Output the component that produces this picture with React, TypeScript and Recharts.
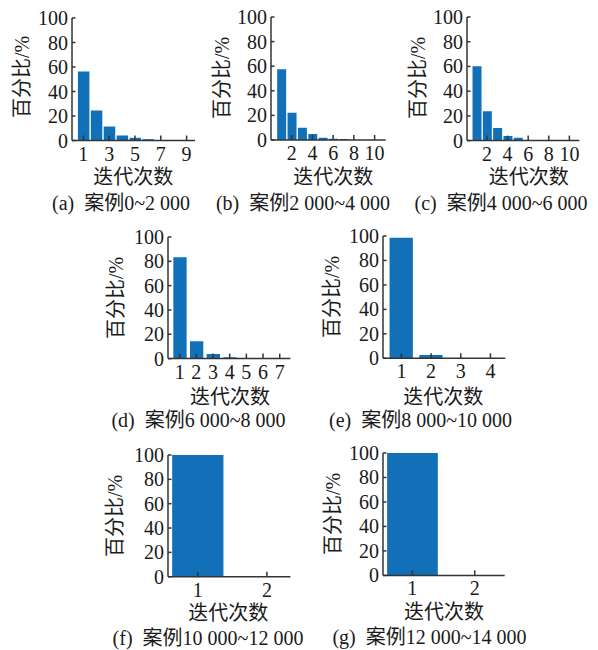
import React from 'react';
import { BarChart, Bar, XAxis, YAxis } from 'recharts';

// iteration counts (x) and share of cases in percent (y), one pair per panel
const iterA = [1, 2, 3, 4, 5, 6, 7, 8, 9];
const pctA = [56.3, 24.5, 11.4, 4.1, 2.2, 1.1, 0.3, 0, 0];
const ticksA = [1, 3, 5, 7, 9];

const iterB = [1, 2, 3, 4, 5, 6, 7, 8, 9, 10];
const pctB = [57.6, 22.2, 10.0, 4.9, 1.9, 1.1, 0.8, 0, 0, 0];
const ticksB = [2, 4, 6, 8, 10];

const iterC = [1, 2, 3, 4, 5, 6, 7, 8, 9, 10];
const pctC = [60.1, 23.7, 10.2, 3.8, 2.2, 0, 0, 0, 0, 0];
const ticksC = [2, 4, 6, 8, 10];

const iterD = [1, 2, 3, 4, 5, 6, 7];
const pctD = [83.3, 14.2, 3.8, 1.1, 0, 0, 0];
const ticksD = [1, 2, 3, 4, 5, 6, 7];

const iterE = [1, 2, 3, 4];
const pctE = [98.6, 2.7, 0, 0];
const ticksE = [1, 2, 3, 4];

const iterF = [1, 2];
const pctF = [100, 0];
const ticksF = [1, 2];

const iterG = [1, 2];
const pctG = [100, 0];
const ticksG = [1, 2];

const yTicks = [0, 20, 40, 60, 80, 100];
const yLabel = '百分比/%';
const xLabel = '迭代次数';
const captions = [
  '(a)\u00a0\u00a0案例0~2 000',
  '(b)\u00a0\u00a0案例2 000~4 000',
  '(c)\u00a0\u00a0案例4 000~6 000',
  '(d)\u00a0\u00a0案例6 000~8 000',
  '(e)\u00a0\u00a0案例8 000~10 000',
  '(f)\u00a0\u00a0案例10 000~12 000',
  '(g)\u00a0\u00a0案例12 000~14 000',
];

const FONT = "'Liberation Serif', 'Noto Sans CJK SC', serif";
const INK = '#1a1a1a';
const AXIS = '#333';
const BAR = '#1170b8';

const YW = 45; // y axis width
const MT = 10;
const MR = 6;
const XH = 30;

type Layout = {
  x0: number; x1: number; yTop: number; yBot: number;
  lo: number; hi: number; barSize: number;
  yl: [number, number]; xl: [number, number]; cap: [number, number];
};

const layouts: Layout[] = [
  { x0: 72, x1: 195, yTop: 17.5, yBot: 140, lo: 0.12, hi: 9.65, barSize: 11.5, yl: [21.7, 76.7], xl: [133.3, 176.7], cap: [121, 203] },
  { x0: 271, x1: 385.7, yTop: 17, yBot: 140, lo: 0, hi: 11.07, barSize: 9, yl: [221.7, 77.5], xl: [333.3, 176.7], cap: [303, 203] },
  { x0: 467.3, x1: 579.7, yTop: 16.7, yBot: 140.3, lo: 0.06, hi: 10.97, barSize: 9, yl: [418, 77.5], xl: [528.8, 176.7], cap: [501, 203] },
  { x0: 168.3, x1: 290.7, yTop: 236.7, yBot: 358.3, lo: 0.3, hi: 7.64, barSize: 13.3, yl: [116, 297.5], xl: [230, 396.7], cap: [198.5, 420] },
  { x0: 382.7, x1: 505, yTop: 236, yBot: 358.3, lo: 0.38, hi: 4.5, barSize: 23.3, yl: [331.7, 296.7], xl: [443.3, 396.7], cap: [420.5, 420] },
  { x0: 168.3, x1: 290.7, yTop: 455, yBot: 576.7, lo: 0.57, hi: 2.34, barSize: 51.3, yl: [115, 515.8], xl: [228.3, 612.5], cap: [208, 637.5] },
  { x0: 383.3, x1: 505, yTop: 453.3, yBot: 575.7, lo: 0.53, hi: 2.48, barSize: 50.7, yl: [332.7, 514], xl: [444, 611.7], cap: [429.5, 637] },
];

const series: [number[], number[], number[]][] = [
  [iterA, pctA, ticksA],
  [iterB, pctB, ticksB],
  [iterC, pctC, ticksC],
  [iterD, pctD, ticksD],
  [iterE, pctE, ticksE],
  [iterF, pctF, ticksF],
  [iterG, pctG, ticksG],
];

const XTick = (props: any) => {
  const { x, y, payload } = props;
  return (
    <g>
      <line x1={x} x2={x} y1={y} y2={y - 5} stroke={AXIS} strokeWidth={1.5} />
      <text x={x} y={y + 20} textAnchor="middle" fill={INK} fontSize={20} fontFamily={FONT}>
        {payload.value}
      </text>
    </g>
  );
};

const YTick = (props: any) => {
  const { x, y, payload } = props;
  return (
    <g>
      <line x1={x} x2={x + 3.5} y1={y} y2={y} stroke={AXIS} strokeWidth={1.5} />
      <text x={x - 4} y={y + 7} textAnchor="end" fill={INK} fontSize={20} fontFamily={FONT}>
        {payload.value}
      </text>
    </g>
  );
};

const textStyle: React.CSSProperties = {
  position: 'absolute',
  fontFamily: FONT,
  fontSize: 20,
  color: INK,
  whiteSpace: 'nowrap',
  lineHeight: '24px',
};

const Panel = ({ idx }: { idx: number }) => {
  const l = layouts[idx];
  const [iters, pcts, ticks] = series[idx];
  const data = iters.map((it, i) => ({ iter: it, pct: pcts[i] }));
  const w = l.x1 - l.x0 + YW + MR;
  const h = l.yBot - l.yTop + MT + XH;
  return (
    <>
      <div style={{ position: 'absolute', left: l.x0 - YW, top: l.yTop - MT }}>
        <BarChart width={w} height={h} data={data} margin={{ top: MT, right: MR, left: 0, bottom: 0 }}>
          <Bar dataKey="pct" fill={BAR} barSize={l.barSize} isAnimationActive={false} />
          <XAxis
            type="number"
            dataKey="iter"
            domain={[l.lo, l.hi]}
            allowDataOverflow
            ticks={ticks}
            interval={0}
            height={XH}
            tickSize={0}
            tickMargin={0}
            tickLine={false}
            tick={<XTick />}
            axisLine={{ stroke: AXIS, strokeWidth: 1.5 }}
          />
          <YAxis
            type="number"
            domain={[0, 100]}
            ticks={yTicks}
            interval={0}
            width={YW}
            tickSize={0}
            tickMargin={0}
            tickLine={false}
            tick={<YTick />}
            axisLine={{ stroke: AXIS, strokeWidth: 1.5 }}
          />
        </BarChart>
      </div>
      <div style={{ ...textStyle, left: l.yl[0], top: l.yl[1], transform: 'translate(-50%, -50%) rotate(-90deg)' }}>
        {yLabel}
      </div>
      <div style={{ ...textStyle, left: l.xl[0], top: l.xl[1], transform: 'translate(-50%, -50%)' }}>
        {xLabel}
      </div>
      <div style={{ ...textStyle, left: l.cap[0], top: l.cap[1], transform: 'translate(-50%, -50%)' }}>
        {captions[idx]}
      </div>
    </>
  );
};

export default function App() {
  return (
    <div style={{ position: 'absolute', left: 0, top: 0, width: 598, height: 650, background: '#fff' }}>
      {layouts.map((_, i) => (
        <Panel key={i} idx={i} />
      ))}
    </div>
  );
}
